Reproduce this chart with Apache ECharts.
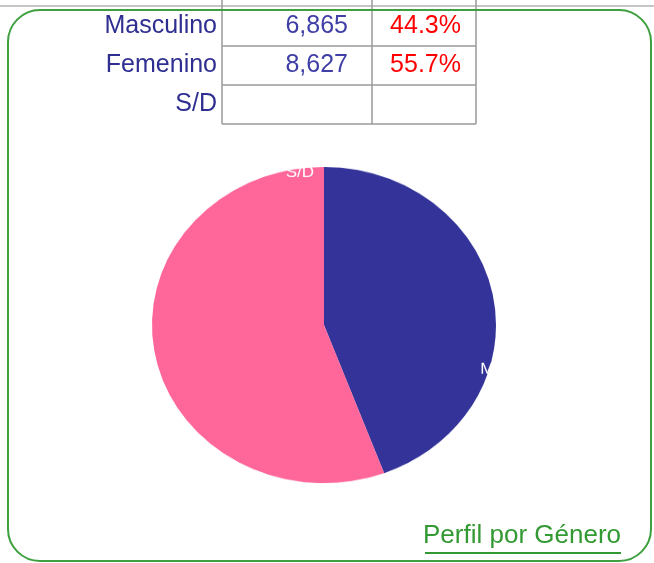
<!DOCTYPE html>
<html>
<head>
<meta charset="utf-8">
<script src="https://cdn.jsdelivr.net/npm/echarts@6/dist/echarts.min.js"></script>
<style>
  html, body { margin: 0; padding: 0; background: #fff; }
  .wrap { position: relative; width: 654px; height: 563px; }
  #main, #pie { position: absolute; left: 0; top: 0; width: 654px; height: 563px; }
  /* Excel draws this pie slightly squashed, so stretch the circle into an ellipse */
  #pie { transform-origin: 324px 325px; transform: scaleY(0.919); }
</style>
</head>
<body>
<div class="wrap">
  <div id="main"></div>
  <div id="pie"></div>
</div>
<script>
const categories = ['Masculino', 'Femenino', 'S/D']
const counts = [6865, 8627, 0]
const shares = [44.3, 55.7, null]
const colors = ['#333399', '#ff6699', '#99ccff']
const title = 'Perfil por Género'

const FONT = '"Liberation Sans", Arial, sans-serif'
const green = '#3fa03f'

// table geometry
const colX = [222, 372, 476]
const rowY = [6, 46, 85, 124]

const graphic = []

// spreadsheet header line
graphic.push({ type: 'rect', shape: { x: 0, y: 5, width: 654, height: 2 }, style: { fill: '#c6c6c6' } })

// grid lines
colX.forEach(x => graphic.push({
  type: 'line', shape: { x1: x, y1: 0, x2: x, y2: rowY[3] },
  style: { stroke: '#9a9a9a', lineWidth: 1.5 }
}))
rowY.slice(1).forEach(y => graphic.push({
  type: 'line', shape: { x1: colX[0], y1: y, x2: colX[2], y2: y },
  style: { stroke: '#9a9a9a', lineWidth: 1.5 }
}))

// rounded frame
graphic.push({
  type: 'rect', shape: { x: 8, y: 10, width: 643, height: 551, r: 32 },
  style: { fill: 'none', stroke: green, lineWidth: 2 }
})

categories.forEach((name, i) => {
  const cy = (rowY[i] + rowY[i + 1]) / 2
  graphic.push({
    type: 'text', x: 217, y: cy,
    style: { text: name, font: '25px ' + FONT, fill: '#2f2f92', align: 'right', verticalAlign: 'middle' }
  })
  if (counts[i]) graphic.push({
    type: 'text', x: 348, y: cy,
    style: { text: counts[i].toLocaleString('en-US'), font: '25px ' + FONT, fill: '#3f3fa6', align: 'right', verticalAlign: 'middle' }
  })
  if (shares[i] != null) graphic.push({
    type: 'text', x: 461, y: cy,
    style: { text: shares[i].toFixed(1) + '%', font: '25px ' + FONT, fill: '#ff0000', align: 'right', verticalAlign: 'middle' }
  })
})

// underlined title bottom right
graphic.push({
  type: 'text', x: 621, y: 549,
  style: { text: title, font: '26px ' + FONT, fill: '#339933', align: 'right', verticalAlign: 'bottom' }
})
graphic.push({
  type: 'line', shape: { x1: 425, y1: 553, x2: 621, y2: 553 },
  style: { stroke: '#339933', lineWidth: 2 }
})

const main = echarts.init(document.getElementById('main'))
main.setOption({ animation: false, graphic })

const pie = echarts.init(document.getElementById('pie'))
pie.setOption({
  animation: false,
  series: [{
    type: 'pie',
    center: [324, 325],
    radius: 172,
    startAngle: 90,
    clockwise: true,
    avoidLabelOverlap: false,
    label: {
      show: true, position: 'outside', color: '#fff',
      fontFamily: FONT, fontSize: 17
    },
    labelLine: { show: false, length: 0, length2: 0 },
    labelLayout: p => {
      if (p.dataIndex === 0) return { dx: -18, dy: 79 }
      if (p.dataIndex === 2) return { dx: -5, dy: 6 }
      return {}
    },
    itemStyle: { borderWidth: 0 },
    emphasis: { disabled: true },
    data: categories.map((name, i) => ({ name, value: counts[i], itemStyle: { color: colors[i] } }))
  }]
})
</script>
</body>
</html>
